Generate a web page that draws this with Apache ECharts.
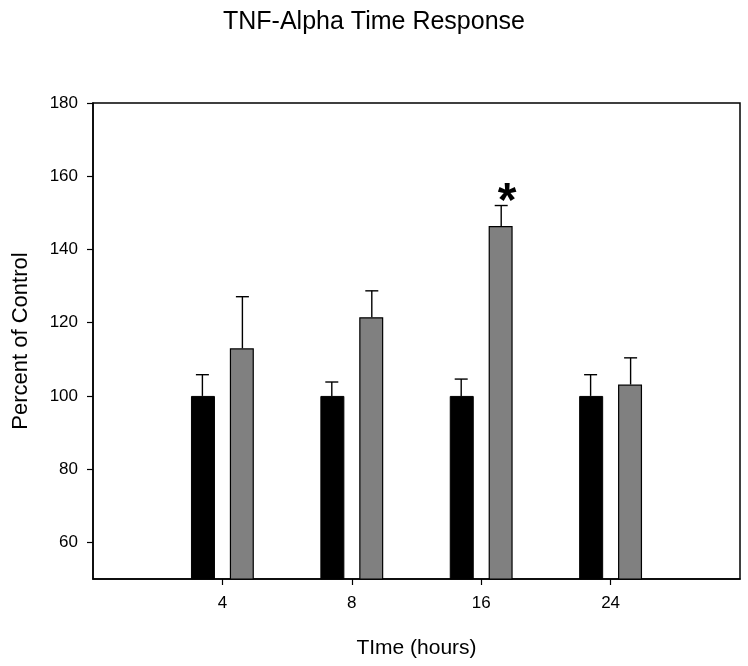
<!DOCTYPE html>
<html>
<head>
<meta charset="utf-8">
<script src="https://cdn.jsdelivr.net/npm/echarts@6/dist/echarts.min.js"></script>
<style>
  html, body { margin: 0; padding: 0; background: #fff; }
  #chart { width: 748px; height: 666px; }
</style>
</head>
<body>
<div id="chart"></div>
<script>
var hours = ['4', '8', '16', '24'];
var ctrlMean = [100, 100, 100, 100];
var ctrlErr = [5.8, 3.8, 4.6, 5.8];
var tnfMean = [113.0, 121.5, 146.4, 103.1];
var tnfErr = [14.1, 7.2, 5.6, 7.3];
var sigMarks = ['', '', '*', ''];
var yTicks = [60, 80, 100, 120, 140, 160, 180];

var font = 'Liberation Sans';
// empty slot at each end of the axis, like the original frame
var xCats = [''].concat(hours, ['']);
function pad(arr) { return ['-'].concat(arr, ['-']); }

function errData(mean, err) {
  var out = [];
  for (var k = 0; k < mean.length; k++) {
    out.push([k + 1, mean[k], err[k], sigMarks[k]]);
  }
  return out;
}

function errItem(offset, withMark) {
  return function (params, api) {
    var i = api.value(0);
    var base = api.coord([i, api.value(1)]);
    var top = api.coord([i, api.value(1) + api.value(2)]);
    var x = base[0] + offset;
    var kids = [
      { type: 'line', shape: { x1: x, y1: base[1], x2: x, y2: top[1] },
        style: { stroke: '#000', lineWidth: 1.4 } },
      { type: 'line', shape: { x1: x - 6.5, y1: top[1], x2: x + 6.5, y2: top[1] },
        style: { stroke: '#000', lineWidth: 1.4 } }
    ];
    var mark = sigMarks[params.dataIndex];
    if (withMark && mark) {
      kids.push({ type: 'text', x: x + 6, y: top[1] - 3,
        style: { text: mark, fill: '#000', font: 'bold 48px "' + font + '"',
                 align: 'center', verticalAlign: 'middle' } });
    }
    return { type: 'group', children: kids };
  };
}

var chart = echarts.init(document.getElementById('chart'));
var option = {
  animation: false,
  title: {
    text: 'TNF-Alpha Time Response',
    left: 'center',
    top: 5,
    textStyle: { fontFamily: font, fontSize: 25, fontWeight: 'normal', color: '#000' }
  },
  grid: {
    left: 93, right: 8, top: 103, bottom: 87,
    show: true, borderColor: '#000', borderWidth: 1.5
  },
  xAxis: {
    type: 'category',
    data: xCats,
    boundaryGap: false,
    name: 'TIme (hours)',
    nameLocation: 'middle',
    nameGap: 59,
    nameTextStyle: { fontFamily: font, fontSize: 21, color: '#000' },
    axisLine: { lineStyle: { color: '#000', width: 1.5 } },
    axisTick: {
      length: 6, lineStyle: { color: '#000', width: 1.2 },
      interval: function (idx, val) { return val !== ''; }
    },
    axisLabel: {
      fontFamily: font, fontSize: 17, color: '#000', margin: 16,
      interval: function (idx, val) { return val !== ''; }
    },
    splitLine: { show: false }
  },
  yAxis: {
    type: 'value',
    min: 50,
    max: 180,
    name: 'Percent of Control',
    nameLocation: 'middle',
    nameGap: 61,
    nameTextStyle: { fontFamily: font, fontSize: 22, color: '#000' },
    axisLine: { show: true, lineStyle: { color: '#000', width: 1.5 } },
    axisTick: { show: true, length: 6, customValues: yTicks, lineStyle: { color: '#000', width: 1.2 } },
    axisLabel: { fontFamily: font, fontSize: 17, color: '#000', margin: 15, customValues: yTicks },
    splitLine: { show: false }
  },
  series: [
    {
      name: 'Control', type: 'bar', data: pad(ctrlMean),
      barWidth: 24, barGap: '62%',
      itemStyle: { color: '#000', borderColor: '#000', borderWidth: 1 }
    },
    {
      name: 'TNF-Alpha', type: 'bar', data: pad(tnfMean),
      barWidth: 24,
      itemStyle: { color: '#808080', borderColor: '#000', borderWidth: 1.2 }
    },
    {
      type: 'custom', data: errData(ctrlMean, ctrlErr), z: 5,
      encode: { x: 0, y: 1 },
      renderItem: errItem(-20, false)
    },
    {
      type: 'custom', data: errData(tnfMean, tnfErr), z: 5,
      encode: { x: 0, y: 1 },
      renderItem: errItem(20, true)
    }
  ]
};
chart.setOption(option);
</script>
</body>
</html>
